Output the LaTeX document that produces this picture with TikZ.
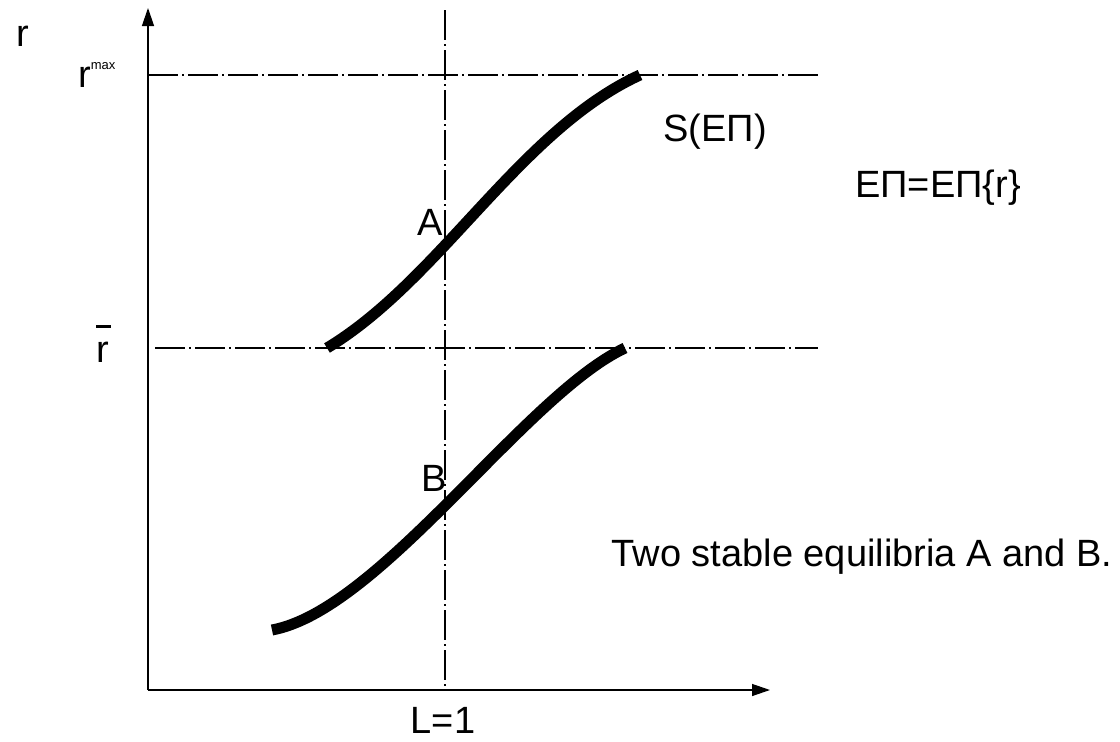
\documentclass[tikz,border=0pt]{standalone}
\usepackage{fontspec}
\setmainfont{Liberation Sans}
\usetikzlibrary{arrows.meta}
\begin{document}
\begin{tikzpicture}[x=1pt,y=-1pt,
  axis/.style={line width=1.3pt,-{Triangle[length=18pt,width=12pt]}},
  guide/.style={line width=1.1pt,dash pattern=on 30pt off 4pt on 2pt off 4pt},
  curve/.style={line width=11pt},
  lbl/.style={font=\fontsize{38}{42}\selectfont,inner sep=0pt}]
\useasboundingbox (0,0) rectangle (1120,742);
\coordinate (O) at (148,690);
\coordinate (ytop) at (148,8);
\coordinate (xend) at (770,690);
\coordinate (vtop) at (445,10);
\coordinate (vbot) at (445,690);
\coordinate (h1a) at (148,75);
\coordinate (h1b) at (820,75);
\coordinate (h2a) at (155,348);
\coordinate (h2b) at (818,348);
\draw[guide] (vtop) -- (vbot);
\draw[guide] (h1a) -- (h1b);
\draw[guide] (h2a) -- (h2b);
\draw[axis] (O) -- (ytop);
\draw[axis] (O) -- (xend);
% upper curve
\coordinate (u0) at (327,348);
\coordinate (u1) at (640,75);
\draw[curve] (u0) .. controls (440,280) and (520,130) .. (u1);
% lower curve
\coordinate (l0) at (272,630);
\coordinate (l1) at (625,348);
\draw[curve] (l0) .. controls (380,610) and (525,395) .. (l1);
\node[lbl] (r) at (23,36) {r};
\node[lbl,anchor=west] (rmax) at (78,75) {r\raisebox{0.45em}{\fontsize{13}{14}\selectfont max}};
\node[lbl] (rbar) at (103,352) {r};
\draw[line width=3pt] (96,326) -- (111,326);
\node[lbl] (A) at (430,222) {A};
\node[lbl] (B) at (434,478) {B};
\node[lbl] (S) at (715,132) {S(EΠ)};
\node[lbl] (E) at (938,188) {EΠ=EΠ\{r\}};
\node[lbl] (two) at (862,557) {Two stable equilibria A and B.};
\node[lbl] (L) at (443,720) {L=1};
\end{tikzpicture}
\end{document}
